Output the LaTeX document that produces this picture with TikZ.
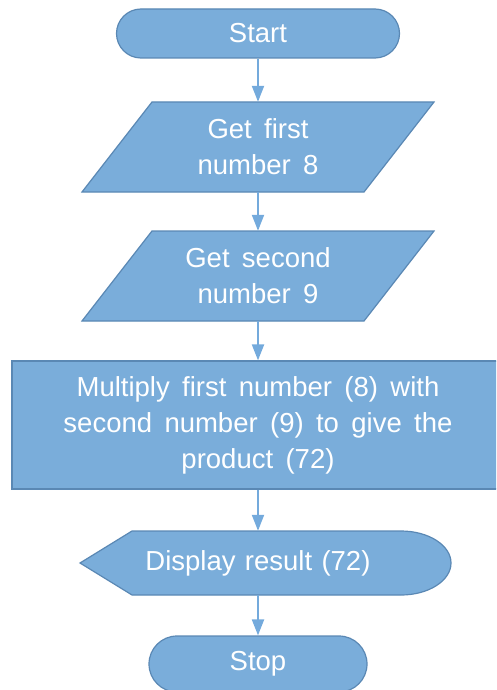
\documentclass[tikz,border=0pt]{standalone}
\usepackage{fontspec}
\setmainfont{Liberation Sans}
\usetikzlibrary{arrows.meta}
\definecolor{boxfill}{RGB}{122,173,218}
\definecolor{boxline}{RGB}{90,136,180}
\definecolor{arrowc}{RGB}{116,170,220}
\newcommand\flfont{\fontsize{27.5}{36}\selectfont\spaceskip=0.45em\relax}
\newcommand\flplain{\fontsize{27.5}{36}\selectfont\spaceskip=0.34em\relax}
\tikzset{
  shapestyle/.style={fill=boxfill, draw=boxline, line width=1.2pt},
  txt/.style={text=white, font=\flfont, align=center, inner sep=0pt},
  flow/.style={draw=arrowc, line width=2pt, -{Triangle[width=12pt,length=16pt]}},
}
\begin{document}
\begin{tikzpicture}[x=1pt,y=-1pt]
\useasboundingbox (0,0) rectangle (496,690);
\clip (0,0) rectangle (496,690);
% Start
\node[shapestyle, txt, rounded corners=24.5pt, minimum width=283pt, minimum height=49pt] (start) at (258,33.5) {Start};
% Input 1
\path[shapestyle] (82,192) -- (152,102) -- (434,102) -- (364,192) -- cycle;
\node[txt, minimum width=351pt, minimum height=90pt] (in1) at (258,147) {Get first\\number 8};
% Input 2
\path[shapestyle] (82,321) -- (152,231) -- (434,231) -- (364,321) -- cycle;
\node[txt, minimum width=351pt, minimum height=90pt] (in2) at (258,276) {Get second\\number 9};
% Process
\node[shapestyle, txt, minimum width=492pt, minimum height=128pt] (proc) at (258,425) {Multiply first number (8) with\\second number (9) to give the\\product (72)};
% Display
\path[shapestyle] (80,563) -- (132,531) -- (401,531) arc[start angle=90, end angle=-90, x radius=50pt, y radius=32pt] -- (132,595) -- cycle;
\node[txt, font=\flplain, minimum height=64pt] (disp) at (258,563) {Display result (72)};
% Stop
\node[shapestyle, txt, rounded corners=28pt, minimum width=218pt, minimum height=56pt] (stop) at (258,664) {Stop};
% connectors
\draw[flow] (start.south) -- (in1.north);
\draw[flow] (in1.south) -- (in2.north);
\draw[flow] (in2.south) -- (proc.north);
\draw[flow] (proc.south) -- (disp.north);
\draw[flow] (disp.south) -- (stop.north);
\end{tikzpicture}
\end{document}
